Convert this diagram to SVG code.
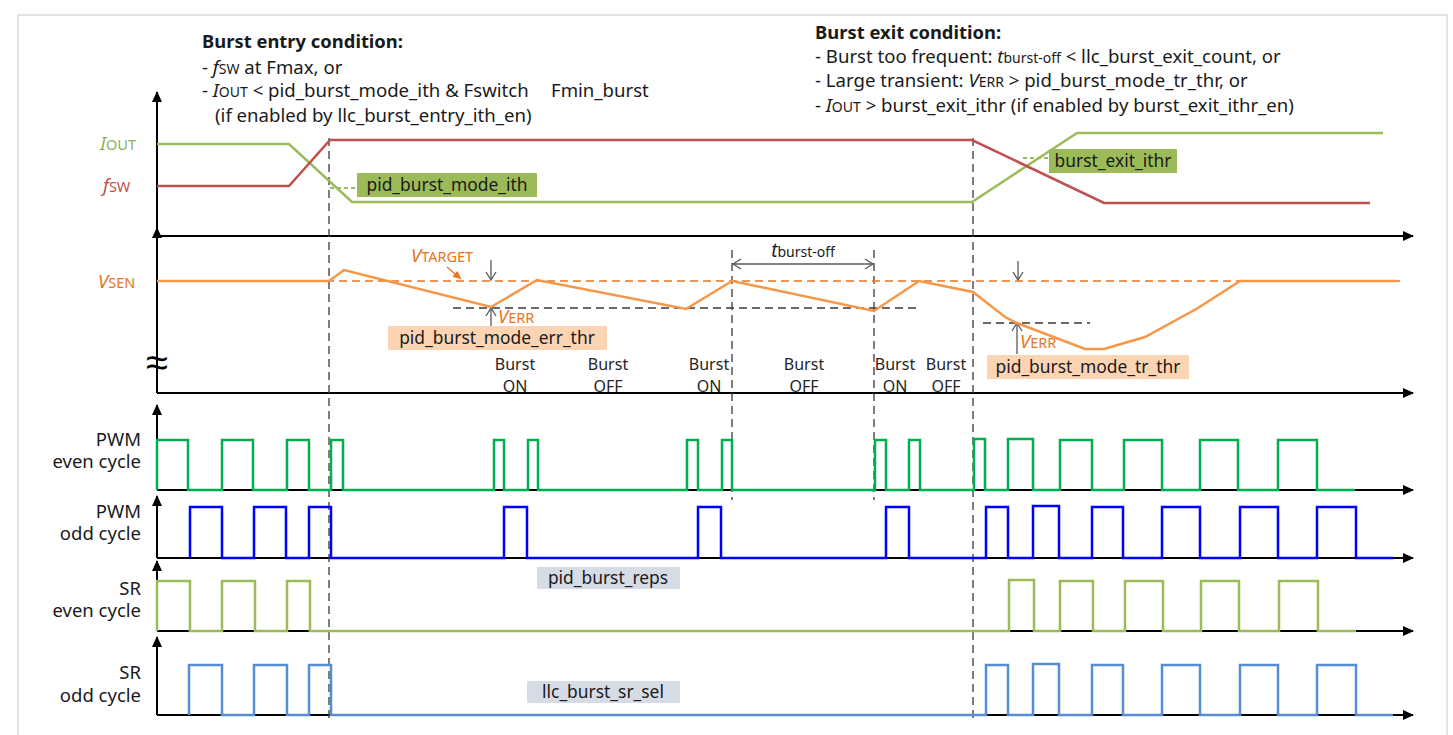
<svg xmlns="http://www.w3.org/2000/svg" width="1453" height="735" viewBox="0 0 1453 735">
<style>
text{font-family:"Noto Sans","Liberation Sans",sans-serif;fill:#1a1a1a}
.t{font-size:18.6px}
.b{font-weight:bold;font-size:18.4px}
.s{font-size:14px}
.sig{font-size:18.5px;text-anchor:end}
.bl{font-size:16px;text-anchor:middle;fill:#262626}
.lab{font-size:17.4px;text-anchor:middle}
.axa{stroke:#000;stroke-width:2;fill:none;marker-end:url(#ah)}
.dv{stroke:#3a3a3a;stroke-width:1.3;stroke-dasharray:8 5;fill:none}
.wave{fill:none;stroke-width:2.5;stroke-linejoin:miter}
.meas{stroke:#595959;stroke-width:1.3;fill:none;marker-end:url(#oh)}
</style>
<defs>
<marker id="ah" markerWidth="12" markerHeight="10" refX="10" refY="5" orient="auto" markerUnits="userSpaceOnUse"><path d="M0,0 L11,5 L0,10 Z" fill="#000"/></marker>
<marker id="oh" markerWidth="12" markerHeight="12" refX="10" refY="6" orient="auto" markerUnits="userSpaceOnUse"><path d="M2,1 L10,6 L2,11" fill="none" stroke="#595959" stroke-width="1.3"/></marker>
<marker id="ohs" markerWidth="12" markerHeight="12" refX="10" refY="6" orient="auto-start-reverse" markerUnits="userSpaceOnUse"><path d="M2,1 L10,6 L2,11" fill="none" stroke="#595959" stroke-width="1.3"/></marker>
<marker id="oa" markerWidth="10" markerHeight="10" refX="8" refY="5" orient="auto" markerUnits="userSpaceOnUse"><path d="M0,1 L8,5 L0,9 Z" fill="#E8741E"/></marker>
</defs>
<rect x="18" y="15" width="1429" height="730" fill="none" stroke="#c8c8c8" stroke-width="1"/>

<g id="entry-text">
<text class="b" x="202" y="48">Burst entry condition:</text>
<text class="t" x="202" y="74">- <tspan font-style="italic">f</tspan><tspan class="s">SW</tspan> at Fmax, or</text>
<text class="t" x="202" y="97">- <tspan font-style="italic">I</tspan><tspan class="s">OUT</tspan> &lt; pid_burst_mode_ith &amp; Fswitch</text>
<text class="t" x="551" y="97">Fmin_burst</text>
<text class="t" x="215" y="122">(if enabled by llc_burst_entry_ith_en)</text>
</g>
<g id="exit-text">
<text class="b" x="815" y="39">Burst exit condition:</text>
<text class="t" x="815" y="63">- Burst too frequent: <tspan font-style="italic">t</tspan><tspan class="s">burst-off</tspan> &lt; llc_burst_exit_count, or</text>
<text class="t" x="815" y="87">- Large transient: <tspan font-style="italic">V</tspan><tspan class="s">ERR</tspan> &gt; pid_burst_mode_tr_thr, or</text>
<text class="t" x="815" y="112">- <tspan font-style="italic">I</tspan><tspan class="s">OUT</tspan> &gt; burst_exit_ithr (if enabled by burst_exit_ithr_en)</text>
</g>

<g id="axes">
<line class="axa" x1="157" y1="236" x2="157" y2="92"/>
<line class="axa" x1="157" y1="236" x2="1413" y2="236"/>
<line class="axa" x1="157" y1="393" x2="157" y2="228"/>
<line class="axa" x1="157" y1="393" x2="1413" y2="393"/>
<line class="axa" x1="157" y1="490" x2="157" y2="405"/>
<line class="axa" x1="157" y1="490" x2="1413" y2="490"/>
<line class="axa" x1="157" y1="558" x2="157" y2="496"/>
<line class="axa" x1="157" y1="558" x2="1413" y2="558"/>
<line class="axa" x1="157" y1="631" x2="157" y2="561"/>
<line class="axa" x1="157" y1="631" x2="1413" y2="631"/>
<line class="axa" x1="157" y1="715" x2="157" y2="637"/>
<line class="axa" x1="157" y1="715" x2="1413" y2="715"/>
<text x="157" y="376" font-size="40" text-anchor="middle" style="fill:#000">≈</text>
</g>

<g id="axis-labels">
<text x="100" y="150" font-size="18.5" style="fill:#8DB255"><tspan font-style="italic">I</tspan><tspan font-size="14.5">OUT</tspan></text>
<text x="103" y="192" font-size="18.5" style="fill:#C0504D"><tspan font-style="italic">f</tspan><tspan font-size="14.5">SW</tspan></text>
<text x="98" y="288" font-size="18.5" style="fill:#E8741E"><tspan font-style="italic">V</tspan><tspan font-size="14.5">SEN</tspan></text>
<text class="sig" x="141" y="446">PWM<tspan x="141" dy="22">even cycle</tspan></text>
<text class="sig" x="141" y="518">PWM<tspan x="141" dy="22">odd cycle</tspan></text>
<text class="sig" x="141" y="595">SR<tspan x="141" dy="22">even cycle</tspan></text>
<text class="sig" x="141" y="679">SR<tspan x="141" dy="23">odd cycle</tspan></text>
</g>

<g id="connectors">
<line class="dv" x1="329" y1="138" x2="329" y2="722"/>
<line class="dv" x1="973" y1="138" x2="973" y2="722"/>
<line class="dv" x1="732" y1="250" x2="732" y2="500"/>
<line class="dv" x1="874" y1="250" x2="874" y2="500"/>
<line x1="453" y1="308" x2="918" y2="308" stroke="#3a3a3a" stroke-width="1.3" stroke-dasharray="8 5"/>
<line x1="983" y1="323" x2="1090" y2="323" stroke="#3a3a3a" stroke-width="1.3" stroke-dasharray="8 5"/>
<line x1="330" y1="188" x2="357" y2="188" stroke="#9BBB59" stroke-width="2" stroke-dasharray="4 3"/>
<line x1="1023" y1="158" x2="1049" y2="158" stroke="#9BBB59" stroke-width="2" stroke-dasharray="4 3"/>
<line class="meas" x1="491" y1="260" x2="491" y2="280"/>
<line class="meas" x1="491" y1="326" x2="491" y2="308"/>
<line class="meas" x1="1018" y1="261" x2="1018" y2="280"/>
<line class="meas" x1="1017" y1="354" x2="1017" y2="323"/>
<line x1="733" y1="264" x2="873" y2="264" stroke="#595959" stroke-width="1.3" marker-start="url(#ohs)" marker-end="url(#ohs)"/>
<line x1="447" y1="267" x2="461" y2="279" stroke="#E8741E" stroke-width="1.3" marker-end="url(#oa)"/>
</g>

<g id="iout-fsw">
<path class="wave" stroke="#9BBB59" d="M157,144 H289 L352,202 H972 L1077,133 H1383"/>
<path class="wave" stroke="#C0504D" d="M157,186 H289 L330,140 H972 L1104,203 H1370"/>
</g>

<g id="vsen">
<line x1="157" y1="281" x2="1400" y2="281" stroke="#E8741E" stroke-width="1.5" stroke-dasharray="8 5"/>
<path class="wave" stroke="#F79646" d="M157,281 H329 L344,270 L491,307 L537,280 L686,309 L732,281 L874,311 L919,281 L973,292 L1005,317 L1017,323 L1085,349 H1104 L1145,337 L1198,308 L1240,281 H1398"/>
</g>

<g id="pwm-even">
<path class="wave" stroke="#00B050" d="M157,490 V440 H188 V490 H222 V440 H253 V490 H287 V440 H309 V490 H331 V440 H343 V490 H494 V440 H504 V490 H528 V440 H538 V490 H687 V440 H698 V490 H722 V440 H732 V490 H875 V440 H886 V490 H909 V440 H920 V490 H974 V439 H985 V490 H1008 V439 H1033 V490 H1060 V440 H1092 V490 H1124 V440 H1162 V490 H1200 V440 H1238 V490 H1278 V440 H1317 V490 H1355"/>
</g>
<g id="pwm-odd">
<path class="wave" stroke="#0000FF" d="M190,558 V507 H222 V558 H254 V507 H286 V558 H309 V507 H331 V558 H504 V507 H527 V558 H698 V507 H721 V558 H886 V507 H909 V558 H986 V507 H1008 V558 H1033 V506 H1059 V558 H1092 V507 H1123 V558 H1162 V507 H1200 V558 H1240 V507 H1278 V558 H1317 V507 H1356 V558 H1393"/>
</g>
<g id="sr-even">
<path class="wave" stroke="#9BBB59" d="M157,631 V581 H190 V631 H222 V581 H255 V631 H287 V581 H310 V631 H1009 V580 H1034 V631 H1060 V581 H1093 V631 H1125 V581 H1163 V631 H1201 V581 H1239 V631 H1279 V581 H1318 V631 H1356"/>
</g>
<g id="sr-odd">
<path class="wave" stroke="#558ED5" d="M189,715 V665 H222 V715 H254 V665 H287 V715 H309 V665 H331 V715 H986 V665 H1008 V715 H1033 V664 H1059 V715 H1092 V665 H1123 V715 H1162 V665 H1200 V715 H1240 V665 H1278 V715 H1317 V665 H1356 V715 H1393"/>
</g>

<g id="label-pid-burst-mode-ith">
<rect x="357" y="173" width="180" height="24" fill="#9BBB59"/>
<text class="lab" x="447" y="191">pid_burst_mode_ith</text>
</g>
<g id="label-burst-exit-ithr">
<rect x="1049" y="149" width="128" height="24" fill="#9BBB59"/>
<text class="lab" x="1113" y="167">burst_exit_ithr</text>
</g>
<g id="label-vtarget">
<text x="411" y="262" font-size="18.4" style="fill:#E8741E"><tspan font-style="italic">V</tspan><tspan font-size="14.5">TARGET</tspan></text>
</g>
<g id="label-verr1">
<text x="498" y="323" font-size="18.4" style="fill:#E8741E"><tspan font-style="italic">V</tspan><tspan font-size="14.5">ERR</tspan></text>
</g>
<g id="label-err-thr">
<rect x="388" y="326" width="219" height="24" fill="#FBD4B4"/>
<text class="lab" x="497" y="344">pid_burst_mode_err_thr</text>
</g>
<g id="label-verr2">
<text x="1020" y="348" font-size="18.4" style="fill:#E8741E"><tspan font-style="italic">V</tspan><tspan font-size="14.5">ERR</tspan></text>
</g>
<g id="label-tr-thr">
<rect x="987" y="355" width="202" height="24" fill="#FBD4B4"/>
<text class="lab" x="1088" y="373">pid_burst_mode_tr_thr</text>
</g>
<g id="label-tburst-off">
<text x="803" y="257" font-size="19" text-anchor="middle"><tspan font-style="italic">t</tspan><tspan font-size="14">burst-off</tspan></text>
</g>
<g id="burst-labels">
<text class="bl" x="515" y="370">Burst<tspan x="515" dy="22">ON</tspan></text>
<text class="bl" x="608" y="370">Burst<tspan x="608" dy="22">OFF</tspan></text>
<text class="bl" x="709" y="370">Burst<tspan x="709" dy="22">ON</tspan></text>
<text class="bl" x="804" y="370">Burst<tspan x="804" dy="22">OFF</tspan></text>
<text class="bl" x="895" y="370">Burst<tspan x="895" dy="22">ON</tspan></text>
<text class="bl" x="946" y="370">Burst<tspan x="946" dy="22">OFF</tspan></text>
</g>
<g id="label-pid-burst-reps">
<rect x="537" y="567" width="143" height="22" fill="#D6DCE5"/>
<text class="lab" x="608" y="584">pid_burst_reps</text>
</g>
<g id="label-llc-burst-sr-sel">
<rect x="527" y="681" width="153" height="22" fill="#D6DCE5"/>
<text class="lab" x="603" y="698">llc_burst_sr_sel</text>
</g>
</svg>
